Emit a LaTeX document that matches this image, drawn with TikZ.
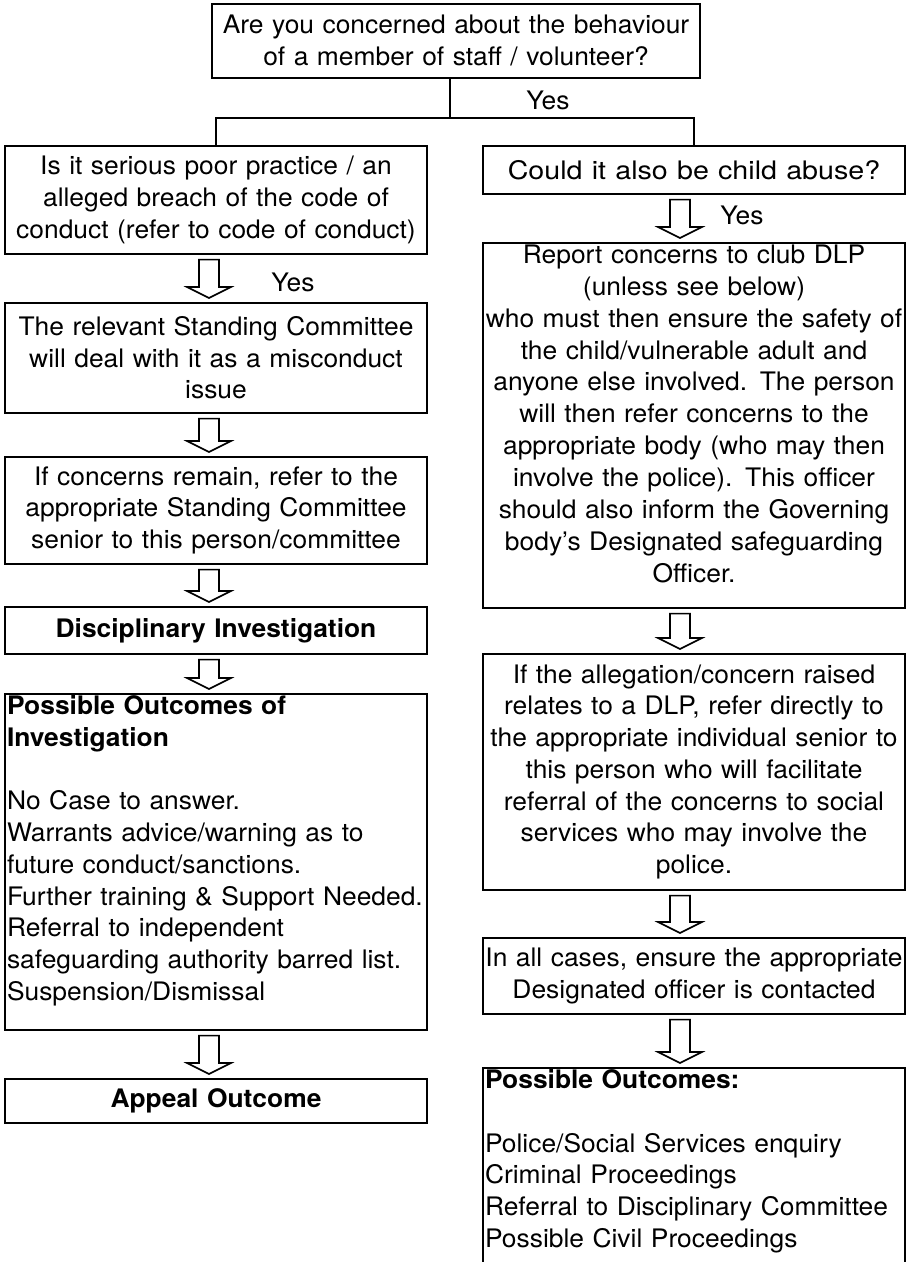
\documentclass[tikz,border=0pt]{standalone}
\usepackage{fontspec}
\usepackage{graphicx}
\setmainfont{TeX Gyre Heros}[FakeStretch=1.035]
\usetikzlibrary{calc}
\hyphenpenalty=10000
\exhyphenpenalty=10000
\hfuzz=50pt
\tikzset{
  box/.style={draw, line width=1.6pt, anchor=north, inner xsep=0pt, inner ysep=2pt,
    align=center, text width=422pt, font=\fontsize{25.5}{31.7}\selectfont},
  blk/.style={draw, line width=1.6pt, fill=white, line join=miter},
  conn/.style={line width=1.6pt},
  lbl/.style={font=\fontsize{25.5}{31.7}\selectfont, inner sep=0pt},
}
\newcommand{\full}[1]{\makebox[\hsize][c]{#1}}
\newcommand{\blockarr}[3]{%
  \draw[blk] let \p1=(#1.south), \p2=(#2.north), \n1={\x1+(#3)} in
    ({\n1-10},{\y1-5}) -- ({\n1-10},{\y2+15}) -- ({\n1-22},{\y2+15}) --
    ({\n1},{\y2+4}) -- ({\n1+22},{\y2+15}) -- ({\n1+10},{\y2+15}) --
    ({\n1+10},{\y1-5}) -- cycle;}
\begin{document}
\begin{tikzpicture}[x=1pt,y=-1pt]
\useasboundingbox (0,0) rectangle (913,1262);
\clip (0,0) rectangle (913,1262);

\node[box, text width=488pt, minimum height=74pt] (top) at (456,3)
  {Are you concerned about the behaviour\\of a member of staff / volunteer?};

% left column
\node[box, minimum height=108pt] (L1) at (216,145)
  {Is it serious poor practice / an\\alleged breach of the code of\\\full{conduct (refer to code of conduct)}};
\node[box, minimum height=110pt] (L2) at (216,302)
  {The relevant Standing Committee\\will deal with it as a misconduct\\issue};
\node[box, minimum height=107pt] (L3) at (216,456)
  {If concerns remain, refer to the\\appropriate Standing Committee\\senior to this person/committee};
\node[box, minimum height=47pt] (L4) at (216,606)
  {\bfseries Disciplinary Investigation};
\node[box, align=left, inner xsep=2pt, text width=418pt] (L5) at (216,693)
  {\parbox[c][332pt][t]{418pt}{\raggedright\bfseries Possible Outcomes of\\Investigation\\[31.7pt]\mdseries
   No Case to answer.\\Warrants advice/warning as to\\future conduct/sanctions.\\\mbox{Further training \& Support Needed.}\\Referral to independent\\\mbox{safeguarding authority barred list.}\\Suspension/Dismissal}};
\node[box, minimum height=44pt] (L6) at (216,1078)
  {\bfseries Appeal Outcome};

% right column
\node[box, minimum height=48pt] (R1) at (694,145)
  {\scalebox{1.085}[1]{Could it also be child abuse?}};
\node[box] (R2) at (694,242)
  {\parbox[c][361pt][t]{422pt}{\centering\fontsize{25.5}{31.9}\selectfont
   Report concerns to club DLP\\(unless see below)\\\full{who must then ensure the safety of}\\the child/vulnerable adult and\\\full{anyone else involved. The person}\\will then refer concerns to the\\\full{appropriate body (who may then}\\involve the police). This officer\\\full{should also inform the Governing}\\\full{body’s Designated safeguarding}\\Officer.}};
\node[box, minimum height=236pt] (R3) at (694,653)
  {If the allegation/concern raised\\\full{relates to a DLP, refer directly to}\\\full{the appropriate individual senior to}\\this person who will facilitate\\\full{referral of the concerns to social}\\services who may involve the\\police.};
\node[box, minimum height=76pt] (R4) at (694,937)
  {\full{In all cases, ensure the appropriate}\\Designated officer is contacted};
\node[box, align=left, inner xsep=2pt, text width=418pt] (R5) at (694,1067)
  {\parbox[c][246pt][t]{418pt}{\raggedright\bfseries Possible Outcomes:\\[31.7pt]\mdseries
   Police/Social Services enquiry\\Criminal Proceedings\\\mbox{Referral to Disciplinary Committee}\\Possible Civil Proceedings}};

% top connectors
\coordinate (j) at (450,118);
\draw[conn] (top.south -| j) -- (j);
\draw[conn] (j) -- (j -| L1.north) -- (L1.north);
\draw[conn] (j) -- (j -| R1.north) -- (R1.north);
\node[lbl] (y0) at (548,100) {Yes};

% block arrows
\blockarr{L1}{L2}{-7}
\blockarr{L2}{L3}{-7}
\blockarr{L3}{L4}{-7}
\blockarr{L4}{L5}{-7}
\blockarr{L5}{L6}{-7}
\blockarr{R1}{R2}{-14}
\blockarr{R2}{R3}{-14}
\blockarr{R3}{R4}{-14}
\blockarr{R4}{R5}{-14}
\node[lbl] (y1) at (293,282) {Yes};
\node[lbl] (y2) at (742,215) {Yes};
\end{tikzpicture}
\end{document}
